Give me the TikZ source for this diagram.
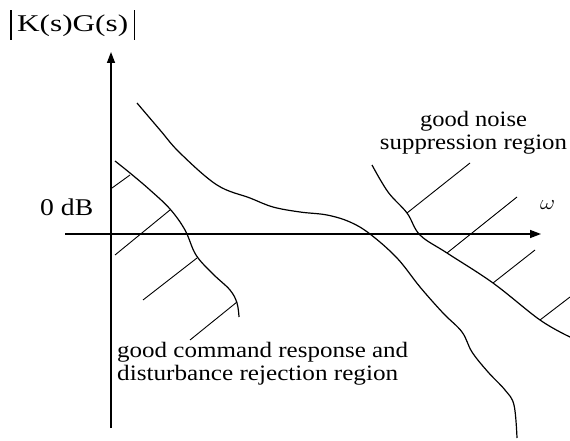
\documentclass[tikz,border=0pt]{standalone}
\usepackage{fontspec}
\setmainfont{Liberation Serif}
\usepackage{graphicx}
\usetikzlibrary{arrows.meta}
\tikzset{
  axis/.style={line width=1.4pt,-{Triangle[length=11pt,width=8pt]}},
  curve/.style={line width=1.2pt,line join=round},
  hatch/.style={line width=0.9pt},
  lbl/.style={inner sep=0pt,font=\fontsize{22}{23}\selectfont}
}
\begin{document}
\begin{tikzpicture}[x=1pt,y=-1pt]
\useasboundingbox[fill=white] (0,0) rectangle (570,441);
% axes
\coordinate (yb) at (111,428);
\coordinate (yt) at (111,52);
\coordinate (xl) at (65,234);
\coordinate (xr) at (541,234);
\draw[axis] (yb) -- (yt);
\draw[axis] (xl) -- (xr);
% labels
\node[lbl,anchor=base west] (ylab) at (10,32)
  {\rule[-8pt]{1.3pt}{30pt}\hspace{5.7pt}\resizebox{111pt}{\height}{\fontsize{24}{26}\selectfont K(s)G(s)}\hspace{6pt}\rule[-8pt]{1.3pt}{30pt}};
\node[lbl,anchor=base west] (zdb) at (40,215)
  {\resizebox{53pt}{\height}{\fontsize{24}{26}\selectfont 0 dB}};
\node[inner sep=0pt] (omega) at (547.5,205)
  {\resizebox{15pt}{\height}{\fontsize{22}{24}\selectfont$\omega$}};
\node[lbl,anchor=north,align=center] (noise) at (473.5,111)
  {\resizebox{107pt}{\height}{good noise}\\\resizebox{187pt}{\height}{suppression region}};
\node[lbl,anchor=north west,align=left] (cmd) at (117,342)
  {\resizebox{291pt}{\height}{good command response and}\\\resizebox{281pt}{\height}{disturbance rejection region}};
% main loop curve
\draw[curve] plot[smooth,tension=0.6] coordinates {(137,103) (160,130) (180,153) (217,185) (250,198) (273,207) (300,212) (327,215) (350,222) (370,234) (397,258) (420,287) (443,313) (462,332) (472,352) (488,372) (505,390) (514,405) (517,438)};
% left boundary
\draw[curve] plot[smooth,tension=0.6] coordinates {(115,161) (130,173) (150,190) (170,209) (185,230) (196,255) (213,274) (230,290) (237,303) (239,317)};
% right boundary
\draw[curve] plot[smooth,tension=0.6] coordinates {(372,165) (388,192) (407,213) (420,235) (447,253) (493,283) (540,320) (570,337)};
% left hatches
\draw[hatch] (130,175) -- (112,188);
\draw[hatch] (170,210) -- (115,255);
\draw[hatch] (197,258) -- (143,300);
\draw[hatch] (237,302) -- (190,340);
% right hatches
\draw[hatch] (407,213) -- (470,163);
\draw[hatch] (447,253) -- (517,197);
\draw[hatch] (493,283) -- (535,250);
\draw[hatch] (540,320) -- (570,297);
\end{tikzpicture}
\end{document}
